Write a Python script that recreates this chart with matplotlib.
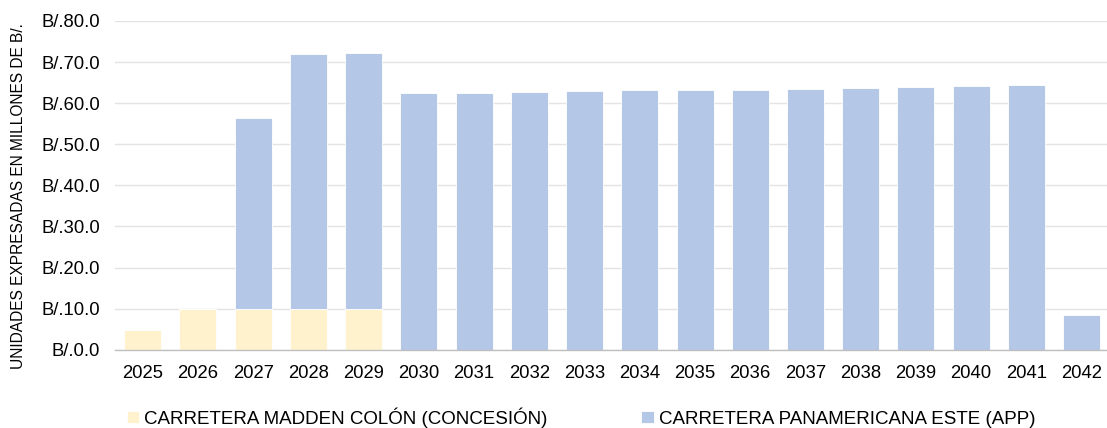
import numpy as np
import matplotlib.pyplot as plt

plt.rcParams['font.family'] = ['Liberation Sans', 'DejaVu Sans']

years = ['2025', '2026', '2027', '2028', '2029', '2030', '2031', '2032', '2033',
         '2034', '2035', '2036', '2037', '2038', '2039', '2040', '2041', '2042']
madden_colon = [4.8, 9.9, 9.9, 9.9, 9.9, 0, 0, 0, 0, 0, 0, 0, 0, 0, 0, 0, 0, 0]
panamericana = [0, 0, 46.6, 62.1, 62.4, 62.4, 62.5, 62.8, 62.9, 63.1, 63.2,
                63.3, 63.5, 63.8, 63.9, 64.1, 64.3, 8.4]
labels = ['CARRETERA MADDEN COLÓN (CONCESIÓN)', 'CARRETERA PANAMERICANA ESTE (APP)']

yellow = '#FFF2CC'
blue = '#B4C7E7'

fig = plt.figure(figsize=(11.07, 4.28), dpi=100)
ax = fig.add_axes([0.104, 0.183, 0.898, 0.768])

x = np.arange(len(years))
w = 0.67
ax.bar(x, madden_colon, w, color=yellow, edgecolor='white', linewidth=0.6,
       label=labels[0], zorder=2)
ax.bar(x, panamericana, w, bottom=madden_colon, color=blue, edgecolor='white',
       linewidth=0.6, label=labels[1], zorder=2)

ax.set_xlim(-0.5, len(years) - 0.5)
ax.set_ylim(0, 80)
ax.set_yticks(np.arange(0, 81, 10))
ax.set_yticklabels(['B/.%.1f' % v for v in np.arange(0, 81, 10)])
ax.set_xticks(x)
ax.set_xticklabels(years)
ax.yaxis.grid(True, color='#E3E3E3', linewidth=1.0, zorder=0)
ax.set_axisbelow(True)
for s in ['top', 'right', 'left']:
    ax.spines[s].set_visible(False)
ax.spines['bottom'].set_color('#BFBFBF')
ax.spines['bottom'].set_linewidth(1.0)
ax.tick_params(axis='both', length=0, labelsize=13.3, colors='#000000')
ax.tick_params(axis='y', pad=11)
ax.tick_params(axis='x', pad=11)

fig.text(0.017, 0.542, 'UNIDADES EXPRESADAS EN MILLONES DE B/.', rotation=90,
         ha='center', va='center', fontsize=11.2)

fig.legend(loc='center', bbox_to_anchor=(0.525, 0.025), ncol=2, frameon=False,
           fontsize=13.5, handlelength=0.65, handleheight=0.65, handletextpad=0.3,
           columnspacing=5.0)

fig.savefig('out.png', dpi=100)
